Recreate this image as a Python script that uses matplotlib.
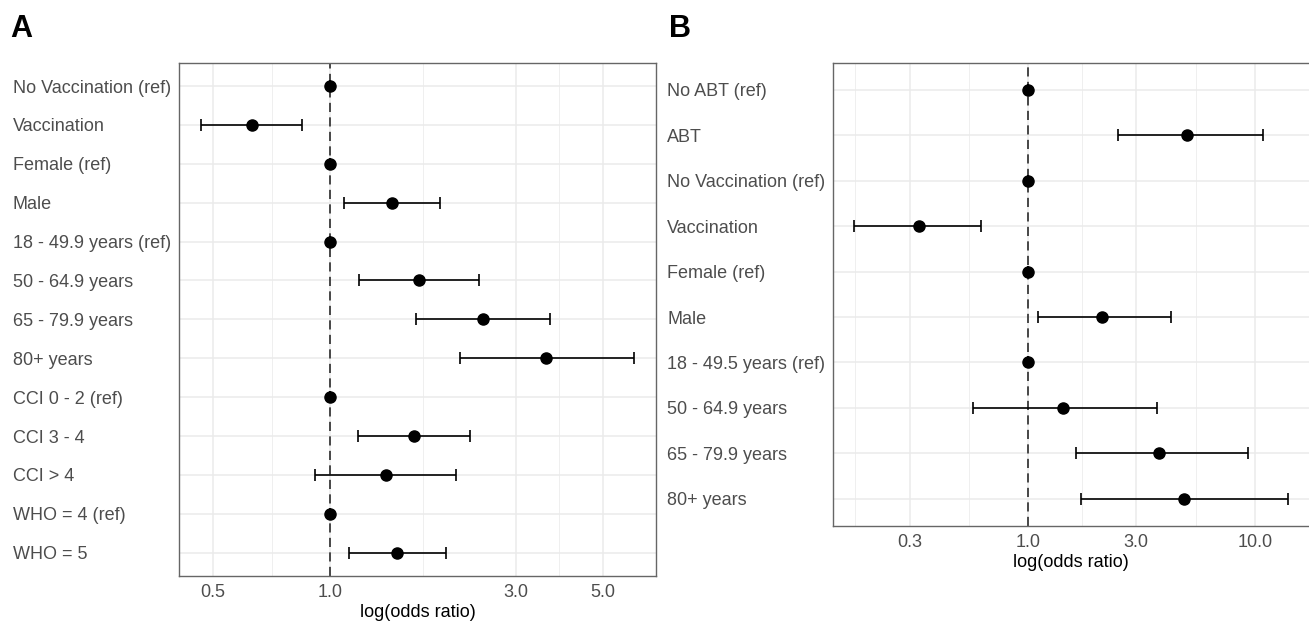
import numpy as np
import matplotlib
matplotlib.use("Agg")
import matplotlib.pyplot as plt

plt.rcParams['font.family'] = ['Liberation Sans', 'DejaVu Sans']

# ---- Panel A data ----
labels_a = ["No Vaccination (ref)", "Vaccination", "Female (ref)", "Male",
            "18 - 49.9 years (ref)", "50 - 64.9 years", "65 - 79.9 years",
            "80+ years", "CCI 0 - 2 (ref)", "CCI 3 - 4", "CCI > 4",
            "WHO = 4 (ref)", "WHO = 5"]
or_a = [1.0, 0.628, 1.0, 1.443, 1.0, 1.689, 2.46, 3.586, 1.0, 1.639, 1.387, 1.0, 1.486]
lo_a = [1.0, 0.465, 1.0, 1.086, 1.0, 1.187, 1.663, 2.157, 1.0, 1.175, 0.911, 1.0, 1.116]
hi_a = [1.0, 0.847, 1.0, 1.916, 1.0, 2.403, 3.656, 6.03, 1.0, 2.288, 2.106, 1.0, 1.977]
breaks_a = [0.5, 1.0, 3.0, 5.0]
ticklabels_a = ["0.5", "1.0", "3.0", "5.0"]

# ---- Panel B data ----
labels_b = ["No ABT (ref)", "ABT", "No Vaccination (ref)", "Vaccination",
            "Female (ref)", "Male", "18 - 49.5 years (ref)", "50 - 64.9 years",
            "65 - 79.9 years", "80+ years"]
or_b = [1.0, 5.0, 1.0, 0.329, 1.0, 2.118, 1.0, 1.431, 3.765, 4.85]
lo_b = [1.0, 2.48, 1.0, 0.171, 1.0, 1.107, 1.0, 0.574, 1.622, 1.718]
hi_b = [1.0, 10.92, 1.0, 0.619, 1.0, 4.253, 1.0, 3.70, 9.35, 13.98]
breaks_b = [0.1, 0.3, 1.0, 3.0, 10.0]
ticklabels_b = ["0.1", "0.3", "1.0", "3.0", "10.0"]

W, H = 1309, 624
FS = 13
fig = plt.figure(figsize=(W / 100, H / 100), dpi=100)


def px_axes(left, top, right, bottom):
    return fig.add_axes([left / W, 1 - bottom / H, (right - left) / W, (bottom - top) / H])


def forest(ax, labels, ors, los, his, breaks, ticklabels, label_x_px, ax_left_px):
    n = len(labels)
    y = np.arange(n)
    ors = np.array(ors); los = np.array(los); his = np.array(his)
    # ggplot-like 5% expansion on log scale
    lmin, lmax = np.log10(los.min()), np.log10(his.max())
    pad = 0.05 * (lmax - lmin)
    xmin, xmax = 10 ** (lmin - pad), 10 ** (lmax + pad)
    ax.set_xscale('log')

    # grid
    lb = np.log10(breaks)
    minors = 10 ** ((lb[:-1] + lb[1:]) / 2)
    for m in minors:
        ax.axvline(m, color='#EBEBEB', lw=0.55, zorder=0)
    for b in breaks:
        ax.axvline(b, color='#EBEBEB', lw=1.1, zorder=0)
    for yy in y:
        ax.axhline(yy, color='#EBEBEB', lw=1.1, zorder=0)

    ax.axvline(1.0, color='#2b2b2b', lw=1.2, linestyle=(0, (5.5, 3.2)), zorder=1)

    ax.errorbar(ors, y, xerr=[ors - los, his - ors], fmt='o', color='black',
                ecolor='black', elinewidth=1.2, capsize=4, capthick=1.2,
                markersize=8, zorder=3)

    vis = [(b, t) for b, t in zip(breaks, ticklabels) if xmin <= b <= xmax]
    ax.set_xticks([v[0] for v in vis])
    ax.set_xticklabels([v[1] for v in vis])
    ax.xaxis.set_minor_locator(matplotlib.ticker.NullLocator())
    ax.set_yticks(y)
    ax.set_yticklabels(labels)
    pad_pt = (ax_left_px - label_x_px) * 0.72
    ax.tick_params(axis='y', length=0, pad=pad_pt, labelsize=FS, labelcolor='#4D4D4D')
    ax.tick_params(axis='x', length=0, pad=6, labelsize=FS, labelcolor='#4D4D4D')
    for t in ax.get_yticklabels():
        t.set_ha('left')
    ax.set_xlabel('log(odds ratio)', fontsize=FS, color='black', labelpad=2)
    for s in ax.spines.values():
        s.set_color('#666666')
        s.set_linewidth(1.0)
    ax.set_xlim(xmin, xmax)
    ax.set_ylim(n - 1 + 0.6, -0.6)


axA = px_axes(179.3, 62.7, 656.0, 576.0)
forest(axA, labels_a, or_a, lo_a, hi_a, breaks_a, ticklabels_a, 13, 179.3)

axB = px_axes(832.5, 62.7, 1309.5, 526.0)
forest(axB, labels_b, or_b, lo_b, hi_b, breaks_b, ticklabels_b, 667, 832.5)

fig.text(10 / W, 1 - 37 / H, 'A', fontsize=22, fontweight='bold', va='baseline', ha='left')
fig.text(669 / W, 1 - 37 / H, 'B', fontsize=22, fontweight='bold', va='baseline', ha='left')

fig.savefig('out.png', dpi=100)
